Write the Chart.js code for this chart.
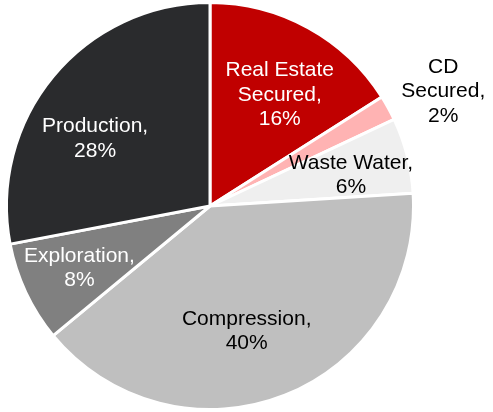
<!DOCTYPE html>
<html>
<head>
<meta charset="utf-8">
<script src="https://cdn.jsdelivr.net/npm/chart.js@4"></script>
<style>
  html, body { margin: 0; padding: 0; background: #ffffff; }
  #wrap { width: 493px; height: 412px; position: relative; }
</style>
</head>
<body>
<div id="wrap"><canvas id="c"></canvas></div>
<script>
// Segment names (label lines) and their shares in percent
const categories = [
  ['Real Estate', 'Secured,'],
  ['CD', 'Secured,'],
  ['Waste Water,'],
  ['Compression,'],
  ['Exploration,'],
  ['Production,']
];
const shares = [16, 2, 6, 40, 8, 28];

const sliceColors = ['#C00000', '#FFB3B3', '#EFEFEF', '#BFBFBF', '#808080', '#2A2B2D'];
const labelColors = ['#FFFFFF', '#000000', '#000000', '#000000', '#FFFFFF', '#FFFFFF'];
// radial fraction of the outer radius and pixel nudge for each label block
const labelPlacement = [
  { f: 0.64, dx: 7,   dy: 3 },
  { f: 1.28, dx: 5,   dy: 11 },
  { f: 0.71, dx: 1,   dy: 5 },
  { f: 0.65, dx: -12, dy: 2 },
  { f: 0.72, dx: 2,   dy: 0 },
  { f: 0.65, dx: -13, dy: 17 }
];

const sliceLabels = {
  id: 'sliceLabels',
  afterDatasetsDraw(chart) {
    const ctx = chart.ctx;
    const meta = chart.getDatasetMeta(0);
    const values = chart.data.datasets[0].data;
    ctx.save();
    ctx.font = '21px "Liberation Sans", Arial, sans-serif';
    ctx.textAlign = 'center';
    ctx.textBaseline = 'middle';
    const lineH = 24.5;
    meta.data.forEach((arc, i) => {
      const p = arc.getProps(['x', 'y', 'startAngle', 'endAngle', 'outerRadius'], true);
      const mid = (p.startAngle + p.endAngle) / 2;
      const pl = labelPlacement[i];
      const cx = p.x + Math.cos(mid) * p.outerRadius * pl.f + pl.dx;
      const cy = p.y + Math.sin(mid) * p.outerRadius * pl.f + pl.dy;
      const lines = categories[i].concat([values[i] + '%']);
      const top = cy - (lines.length - 1) * lineH / 2;
      ctx.fillStyle = labelColors[i];
      lines.forEach((t, k) => ctx.fillText(t, cx, top + k * lineH));
    });
    ctx.restore();
  }
};

new Chart(document.getElementById('c'), {
  type: 'pie',
  data: {
    labels: categories.map(c => c.join(' ')),
    datasets: [{
      data: shares,
      backgroundColor: sliceColors,
      borderColor: '#FFFFFF',
      borderWidth: 3
    }]
  },
  options: {
    responsive: true,
    maintainAspectRatio: false,
    animation: false,
    layout: { padding: { left: 0, right: 73, top: 1, bottom: 1 } },
    plugins: {
      legend: { display: false },
      tooltip: { enabled: false }
    }
  },
  plugins: [sliceLabels]
});
</script>
</body>
</html>
